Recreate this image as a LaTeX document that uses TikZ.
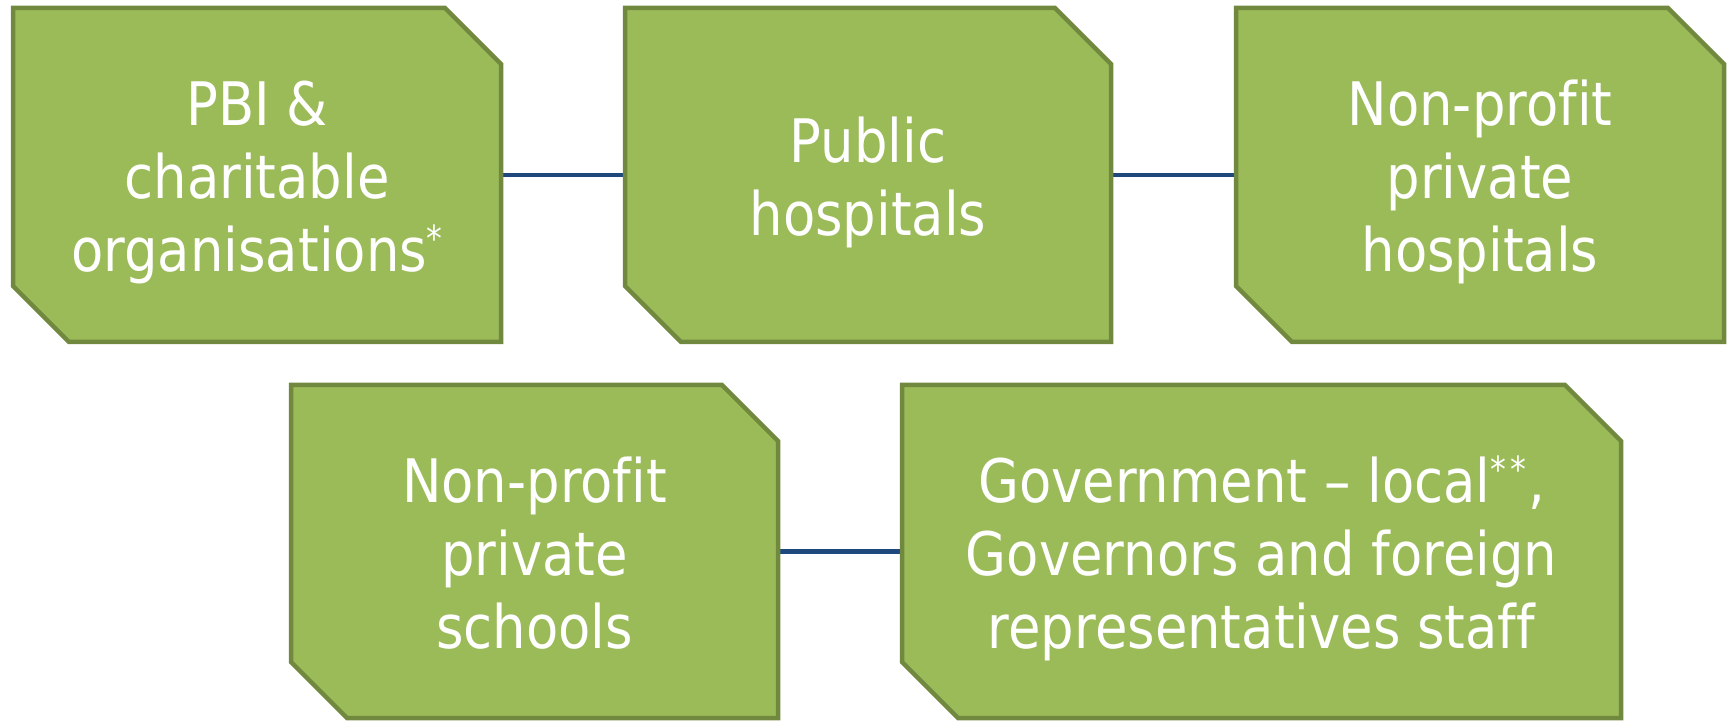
\documentclass[tikz,border=0pt]{standalone}
\usepackage{fontspec}
\newfontfamily\boxfont[FakeStretch=0.88,Ligatures=NoCommon]{DejaVu Sans}
\usetikzlibrary{calc,backgrounds}
\definecolor{boxfill}{HTML}{9BBB59}
\definecolor{boxedge}{HTML}{71893F}
\definecolor{linkblue}{HTML}{1F497D}
\newcommand\lns{\rule[-12.5pt]{0pt}{73pt}}
\newcommand\hiast{\raisebox{20pt}{\fontsize{36}{36}\selectfont*}}
\newcommand\chamferpanel[1]{%
  \path[panelline] (#1.north west) -- ($(#1.north east)+(-56,0)$) -- ($(#1.north east)+(0,-56)$)
    -- (#1.south east) -- ($(#1.south west)+(56,0)$) -- ($(#1.south west)+(0,56)$) -- cycle;}
\tikzset{
  panel/.style={rectangle, inner sep=0pt, outer sep=0pt, minimum height=334pt,
    text=white, align=center, font=\boxfont\fontsize{60}{73}\selectfont},
  panelline/.style={draw=boxedge, fill=boxfill, line width=4.5pt},
  link/.style={draw=linkblue, line width=4.5pt}
}
\begin{document}
\begin{tikzpicture}[x=1pt,y=1pt]
\useasboundingbox (0,0) rectangle (1728,720);
\node[panel, minimum width=488pt] (b1) at (257,545) {PBI \&\lns\\charitable\lns\\organisations\hiast\lns};
\node[panel, minimum width=486pt] (b2) at (868,545) {Public\lns\\hospitals\lns};
\node[panel, minimum width=488pt] (b3) at (1480,545) {Non-profit\lns\\private\lns\\hospitals\lns};
\node[panel, minimum width=487pt, minimum height=333pt] (b4) at (534.5,168.5) {Non-profit\lns\\private\lns\\schools\lns};
\node[panel, minimum width=719pt, minimum height=333pt] (b5) at (1261.5,168.5) {Government – local\hiast\kern4pt\hiast\kern2pt,\lns\\Governors and foreign\lns\\representatives staff\lns};
\begin{scope}[on background layer]
  \draw[link] (b1.east) -- (b2.west);
  \draw[link] (b2.east) -- (b3.west);
  \draw[link] (b4.east) -- (b5.west);
  \chamferpanel{b1}
  \chamferpanel{b2}
  \chamferpanel{b3}
  \chamferpanel{b4}
  \chamferpanel{b5}
\end{scope}
\end{tikzpicture}
\end{document}
